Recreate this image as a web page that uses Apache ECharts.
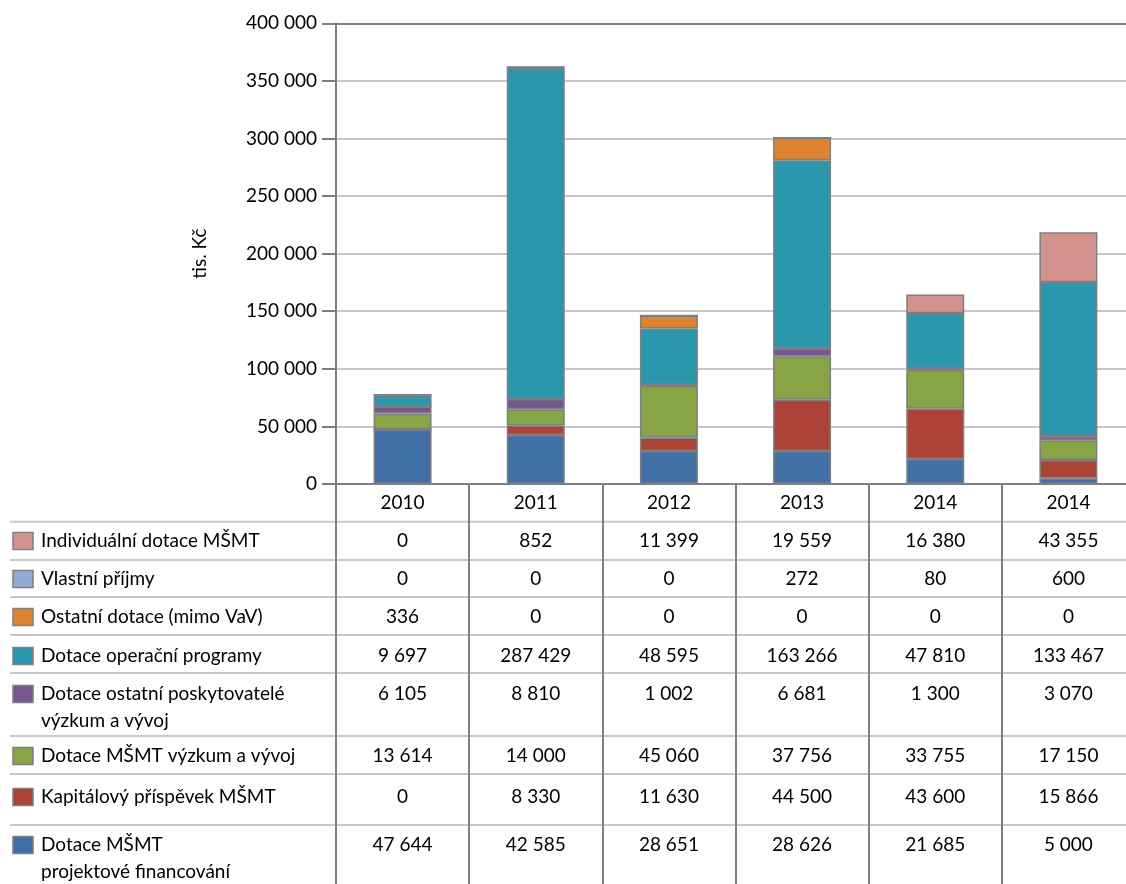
<!DOCTYPE html>
<html><head><meta charset="utf-8">
<script src="https://cdn.jsdelivr.net/npm/echarts@6/dist/echarts.min.js"></script>
<style>html,body{margin:0;padding:0;background:#fff;overflow:hidden}#c{width:1135px;height:884px}</style>
</head><body><div id="c"></div>
<script>
// ---- data ----
const categories = ['2010', '2011', '2012', '2013', '2014', '2014'];
const yAxisName = 'tis. Kč';

// table rows (as printed)
const individualniDotace = [0, 852, 11399, 19559, 16380, 43355];
const vlastniPrijmy = [0, 0, 0, 272, 80, 600];
const ostatniDotace = [336, 0, 0, 0, 0, 0];
const dotaceOP = [9697, 287429, 48595, 163266, 47810, 133467];
const dotaceOstatniPoskytovatele = [6105, 8810, 1002, 6681, 1300, 3070];
const dotaceMsmtVaV = [13614, 14000, 45060, 37756, 33755, 17150];
const kapitalovyPrispevek = [0, 8330, 11630, 44500, 43600, 15866];
const dotaceMsmtProjektove = [47644, 42585, 28651, 28626, 21685, 5000];

// top segments as they are drawn in the bars (orange vs pink)
const barOrangeTop = [336, 852, 11399, 19559, 0, 0];
const barPinkTop = [0, 0, 0, 0, 16380, 43355];

const rowLabels = [
  'Individuální dotace MŠMT',
  'Vlastní příjmy',
  'Ostatní dotace (mimo VaV)',
  'Dotace operační programy',
  'Dotace ostatní poskytovatelé\nvýzkum a vývoj',
  'Dotace MŠMT výzkum a vývoj',
  'Kapitálový příspěvek MŠMT',
  'Dotace MŠMT\nprojektové financování'
];

// ---- styles / layout ----
const FONT = 'Lato';
const FS = 19;
const C = {
  blue: '#4170a6', red: '#ad4236', green: '#87a544', purple: '#765590',
  lightblue: '#94acd5', teal: '#2b97ad', orange: '#de8431', pink: '#d4928f'
};
const tableRows = [
  {label: rowLabels[0], values: individualniDotace, color: C.pink},
  {label: rowLabels[1], values: vlastniPrijmy, color: C.lightblue},
  {label: rowLabels[2], values: ostatniDotace, color: C.orange},
  {label: rowLabels[3], values: dotaceOP, color: C.teal},
  {label: rowLabels[4], values: dotaceOstatniPoskytovatele, color: C.purple},
  {label: rowLabels[5], values: dotaceMsmtVaV, color: C.green},
  {label: rowLabels[6], values: kapitalovyPrispevek, color: C.red},
  {label: rowLabels[7], values: dotaceMsmtProjektove, color: C.blue}
];
const rowLineY = [521.7, 560, 597, 635, 673, 736, 774, 825];
const rowTextY = [541, 579, 617, 656, 694, 756, 797, 845];
const LINE_H = 27;

function fmt(n) { return String(n).replace(/\B(?=(\d{3})+(?!\d))/g, ' '); }

const barSeries = [
  ['Dotace MŠMT projektové financování', dotaceMsmtProjektove, C.blue],
  ['Kapitálový příspěvek MŠMT', kapitalovyPrispevek, C.red],
  ['Dotace MŠMT výzkum a vývoj', dotaceMsmtVaV, C.green],
  ['Dotace ostatní poskytovatelé výzkum a vývoj', dotaceOstatniPoskytovatele, C.purple],
  ['Vlastní příjmy', vlastniPrijmy, C.lightblue],
  ['Dotace operační programy', dotaceOP, C.teal],
  ['Ostatní dotace (mimo VaV)', barOrangeTop, C.orange],
  ['Individuální dotace MŠMT', barPinkTop, C.pink]
].map(([name, data, color]) => ({
  name, type: 'bar', stack: 'total', data, barWidth: 58,
  itemStyle: {color, borderColor: '#7f7f7f', borderWidth: 1.5},
  emphasis: {disabled: true}
}));

const chart = echarts.init(document.getElementById('c'), null, {renderer: 'canvas'});
chart.setOption({
  animation: false,
  textStyle: {fontFamily: FONT},
  grid: {left: 336, top: 23.3, bottom: 400, right: 0, containLabel: false},
  xAxis: [{
    type: 'category', data: categories, position: 'bottom',
    axisLine: {lineStyle: {color: '#7f7f7f', width: 2}},
    axisTick: {show: true, length: 400, lineStyle: {color: '#7f7f7f', width: 2}},
    axisLabel: {color: '#000', fontSize: FS, fontFamily: FONT, margin: 9}
  }, {
    type: 'category', data: categories, position: 'top',
    axisLine: {show: true, lineStyle: {color: '#7f7f7f', width: 2}},
    axisTick: {show: false}, axisLabel: {show: false}
  }],
  yAxis: {
    type: 'value', min: 0, max: 400000, interval: 50000,
    name: yAxisName, nameLocation: 'middle', nameRotate: 90, nameGap: 127,
    nameTextStyle: {color: '#000', fontSize: FS, fontFamily: FONT},
    axisLine: {show: true, lineStyle: {color: '#7f7f7f', width: 2}},
    axisTick: {show: true, length: 14, lineStyle: {color: '#7f7f7f', width: 2}},
    axisLabel: {color: '#000', fontSize: FS, fontFamily: FONT, margin: 19, formatter: v => fmt(v)},
    splitLine: {show: true, lineStyle: {color: '#c8c8c8', width: 2}}
  },
  series: barSeries
});

const colX = categories.map((_, i) => chart.convertToPixel({xAxisIndex: 0}, i));
const graphics = [];
rowLineY.forEach(y => graphics.push({
  type: 'line', z: -10, silent: true,
  shape: {x1: 10, y1: y, x2: 1135, y2: y},
  style: {stroke: '#c8c8c8', lineWidth: 2}
}));
tableRows.forEach((row, r) => {
  const ty = rowTextY[r];
  graphics.push({
    type: 'rect', silent: true,
    shape: {x: 13, y: ty - 8.5, width: 20, height: 17},
    style: {fill: row.color, stroke: '#7f7f7f', lineWidth: 1.5}
  });
  row.label.split('\n').forEach((line, li) => graphics.push({
    type: 'text', silent: true, x: 41, y: ty + li * LINE_H,
    style: {text: line, fill: '#000', fontSize: FS, fontFamily: FONT, align: 'left', verticalAlign: 'middle'}
  }));
  row.values.forEach((v, i) => graphics.push({
    type: 'text', silent: true, x: colX[i], y: ty,
    style: {text: fmt(v), fill: '#000', fontSize: FS, fontFamily: FONT, align: 'center', verticalAlign: 'middle'}
  }));
});
chart.setOption({graphic: graphics});
</script>
</body></html>
